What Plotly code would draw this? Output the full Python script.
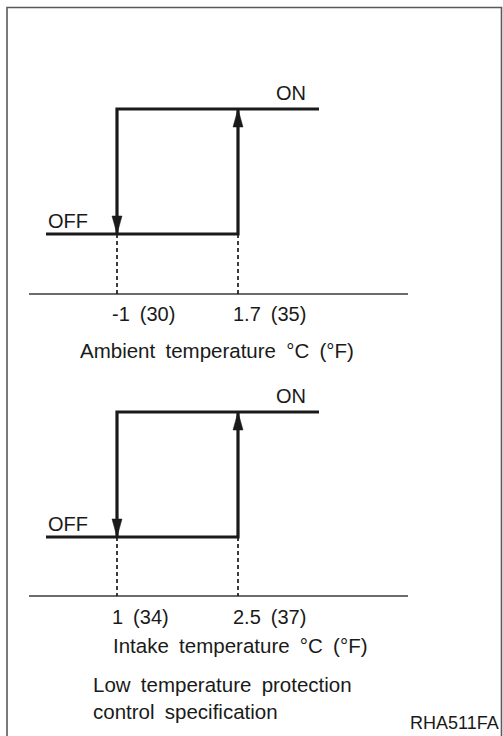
import plotly.graph_objects as go

# ---------------- data ----------------
states = [0, 1]                      # OFF, ON
state_labels = ["OFF", "ON"]

ambient_thresholds = [-1.0, 1.7]     # °C : switch OFF at -1, ON at 1.7
ambient_labels = ["-1 (30)", "1.7 (35)"]
ambient_title = "Ambient temperature °C (°F)"

intake_thresholds = [1.0, 2.5]       # °C : switch OFF at 1, ON at 2.5
intake_labels = ["1 (34)", "2.5 (37)"]
intake_title = "Intake temperature °C (°F)"

caption_lines = ["Low temperature protection", "control specification"]
figure_code = "RHA511FA"

# ---------------- layout geometry (pixels) ----------------
W, H = 503, 736
GAP_PX = 121        # distance between the two thresholds
LO_PX = 117         # x pixel of the lower threshold
STATE_PX = 125      # distance between OFF and ON levels
FONT = "Liberation Sans, Arial, Helvetica, sans-serif"
INK = "#1a1a1a"
SP = "\u2002"


def wide(s):
    return s.replace(" ", SP)


panels = [
    dict(th=ambient_thresholds, labels=ambient_labels, title=ambient_title,
         on_px=109, base_px=294, label_dy=20, title_px=(217, 350), ax=""),
    dict(th=intake_thresholds, labels=intake_labels, title=intake_title,
         on_px=412, base_px=596, label_dy=21, title_px=(240.5, 645), ax="2"),
]

fig = go.Figure()
annotations = []
layout_axes = {}

for p in panels:
    lo, hi = p["th"]
    off, on = states
    scale = GAP_PX / (hi - lo)                 # px per °C
    xr = [lo - LO_PX / scale, lo + (W - LO_PX) / scale]
    ytop = on + p["on_px"] / STATE_PX
    yr = [ytop - H / STATE_PX, ytop]
    base = off - (p["base_px"] - (p["on_px"] + STATE_PX)) / STATE_PX
    xa, ya = "x" + p["ax"], "y" + p["ax"]

    x_start = lo - 71 / scale
    x_end = hi + 81 / scale
    b_left = lo - 88 / scale
    b_right = hi + 170 / scale

    # baseline
    fig.add_trace(go.Scatter(x=[b_left, b_right], y=[base, base], mode="lines",
                             line=dict(color="#3a3a3a", width=1.6),
                             xaxis=xa, yaxis=ya, hoverinfo="skip", showlegend=False))
    # dashed drop lines
    fig.add_trace(go.Scatter(x=[lo, lo, None, hi, hi], y=[off, base, None, off, base],
                             mode="lines", line=dict(color=INK, width=1.7, dash="4px,3px"),
                             xaxis=xa, yaxis=ya, hoverinfo="skip", showlegend=False))
    # hysteresis loop
    fig.add_trace(go.Scatter(x=[x_start, hi, hi], y=[off, off, on], mode="lines",
                             line=dict(color=INK, width=3.2),
                             xaxis=xa, yaxis=ya, hoverinfo="skip", showlegend=False))
    fig.add_trace(go.Scatter(x=[lo, lo, x_end], y=[off, on, on], mode="lines",
                             line=dict(color=INK, width=3.2),
                             xaxis=xa, yaxis=ya, hoverinfo="skip", showlegend=False))
    # arrow heads
    hl = 18 / STATE_PX
    hw = 5.0 / scale
    fig.add_trace(go.Scatter(x=[lo - hw, lo + hw, lo, lo - hw],
                             y=[off + hl, off + hl, off, off + hl],
                             mode="lines", fill="toself", fillcolor=INK,
                             line=dict(color=INK, width=0.5),
                             xaxis=xa, yaxis=ya, hoverinfo="skip", showlegend=False))
    fig.add_trace(go.Scatter(x=[hi - hw, hi + hw, hi, hi - hw],
                             y=[on - hl, on - hl, on, on - hl],
                             mode="lines", fill="toself", fillcolor=INK,
                             line=dict(color=INK, width=0.5),
                             xaxis=xa, yaxis=ya, hoverinfo="skip", showlegend=False))

    # state labels
    annotations.append(dict(x=x_start, y=off, xref=xa, yref=ya, text=state_labels[0],
                            xanchor="left", yanchor="middle", xshift=0, yshift=13,
                            showarrow=False))
    annotations.append(dict(x=hi, y=on, xref=xa, yref=ya, text=state_labels[1],
                            xanchor="center", yanchor="middle", xshift=53, yshift=16,
                            showarrow=False))
    # threshold labels
    for t, lab in zip(p["th"], p["labels"]):
        annotations.append(dict(x=t, y=base, xref=xa, yref=ya, text=wide(lab),
                                xanchor="left", yanchor="middle", xshift=-7,
                                yshift=-p["label_dy"], showarrow=False))
    # axis title
    tx, ty = p["title_px"]
    annotations.append(dict(x=tx / W, y=1 - ty / H, xref="paper", yref="paper",
                            text=wide(p["title"]), xanchor="center", yanchor="middle",
                            font=dict(size=20.5), showarrow=False))

    layout_axes["xaxis" + p["ax"]] = dict(range=xr, domain=[0, 1], visible=False,
                                          fixedrange=True, anchor=ya)
    layout_axes["yaxis" + p["ax"]] = dict(range=yr, domain=[0, 1], visible=False,
                                          fixedrange=True, anchor=xa)

layout_axes["xaxis2"]["overlaying"] = "x"
layout_axes["yaxis2"]["overlaying"] = "y"

# caption and figure code
annotations.append(dict(x=91 / W, y=1 - 698 / H, xref="paper", yref="paper",
                        text="<br>".join(wide(s) for s in caption_lines),
                        xanchor="left", yanchor="middle", align="left",
                        font=dict(size=20.5), showarrow=False))
annotations.append(dict(x=501 / W, y=1 - 723 / H, xref="paper", yref="paper",
                        text=figure_code, xanchor="right", yanchor="middle",
                        font=dict(size=18), showarrow=False))

# frame (open at the bottom)
fx0, fx1, fy = 7 / W, 501.5 / W, 1 - 7.5 / H
shapes = [dict(type="path", xref="paper", yref="paper",
               path=f"M{fx0},-0.01 L{fx0},{fy} L{fx1},{fy} L{fx1},-0.01",
               line=dict(color="#5a5a5a", width=1.6))]

fig.update_layout(
    width=W, height=H,
    margin=dict(l=0, r=0, t=0, b=0),
    paper_bgcolor="white", plot_bgcolor="rgba(0,0,0,0)",
    font=dict(family=FONT, size=20, color=INK),
    annotations=annotations, shapes=shapes,
    showlegend=False,
    **layout_axes,
)

fig.write_html("out.html", config={"displayModeBar": False},
               post_script="document.body.style.margin='0';"
                           "document.body.style.overflow='hidden';")
